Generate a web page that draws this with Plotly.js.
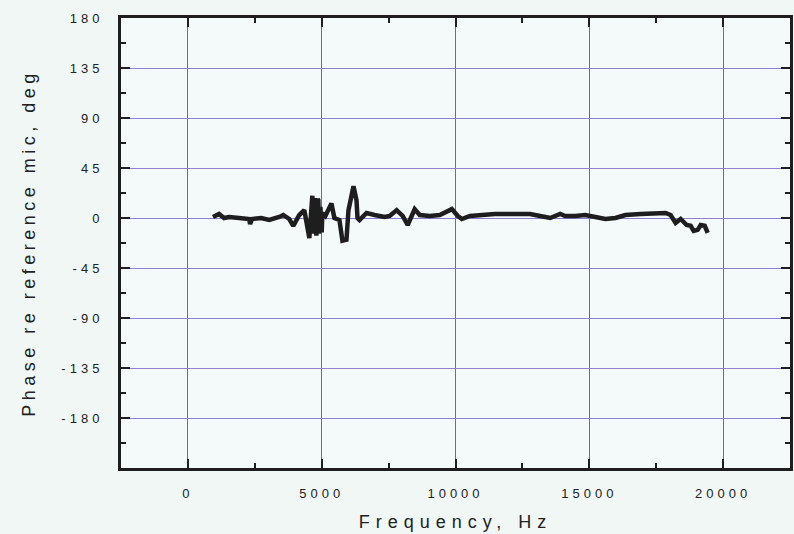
<!DOCTYPE html>
<html>
<head>
<meta charset="utf-8">
<script src="https://cdn.plot.ly/plotly-3.0.1.min.js"></script>
<style>
  html, body { margin: 0; padding: 0; background: #f0f7f5; }
  #chart { width: 794px; height: 534px; }
  .xtick text, .ytick text { letter-spacing: 4px; }
  .g-xtitle text { letter-spacing: 6px; }
  .g-ytitle text { letter-spacing: 4.5px; }
</style>
</head>
<body>
<div id="chart"></div>
<script>
// Frequency (Hz)
const freqHz = [938, 1163, 1350, 1538, 1913, 2288, 2325, 2400, 2738, 3038, 3413, 3563, 3788, 3938,
  4163, 4350, 4538, 4650, 4700, 4763, 4800, 4850, 4875, 4900, 4950, 5000, 5025, 5138, 5363, 5475,
  5663, 5775, 5925, 6000, 6113, 6188, 6300, 6338, 6413, 6675, 6975, 7350, 7538, 7800, 8025, 8213,
  8363, 8475, 8663, 9038, 9413, 9863, 10088, 10238, 10538, 10913, 11475, 12038, 12413, 12788, 13163,
  13538, 13913, 14100, 14475, 14850, 15225, 15600, 15975, 16350, 16913, 17363, 17850, 18038, 18188,
  18225, 18413, 18638, 18788, 18900, 19050, 19163, 19313, 19425];
// Phase re reference mic (deg)
const phaseDeg = [0.9, 3.6, 0, 0.9, 0, -0.9, -5.4, -0.9, 0, -1.8, 0.9, 2.7, -0.9, -7,
  2.7, 7, -18, 20, -14, 18, -16, 17, 16, -14, 10, -13, 4.5, 1.8, 13, 0,
  -1.8, -20.5, -19.6, 7, 22, 28.5, 16, 0, -1.8, 4.5, 2.7, 0.9, 1.8, 7, 1.8, -6.3,
  1.8, 8, 2.7, 1.8, 2.7, 8, 1.8, -0.9, 1.8, 2.7, 3.6, 3.6, 3.6, 3.6, 1.8,
  0, 3.6, 1.8, 1.8, 2.7, 0.9, -0.9, 0, 2.7, 3.6, 4.5, 4.5, 2.7, -1.8,
  -4.5, -0.9, -6.3, -7, -11.6, -10.7, -6.3, -7, -13.4];

const xTickVals = [0, 5000, 10000, 15000, 20000];
const xTickText = ['0', '5000', '10000', '15000', '20000'];
const yTickVals = [-180, -135, -90, -45, 0, 45, 90, 135, 180];
const yTickText = ['-180', '-135', '-90', '-45', '0', '45', '90', '135', '180'];

const axisColor = '#1e1e1e';

const trace = {
  x: freqHz,
  y: phaseDeg,
  type: 'scatter',
  mode: 'lines',
  line: { color: '#1e1e1e', width: 4.5 },
  hoverinfo: 'skip'
};

const layout = {
  width: 794,
  height: 534,
  paper_bgcolor: '#f0f7f5',
  plot_bgcolor: '#f4faf9',
  margin: { l: 121, r: 4, t: 18, b: 66 },
  showlegend: false,
  font: { family: 'Liberation Sans, Arial, sans-serif', color: '#222', size: 13 },
  xaxis: {
    range: [-2500, 22500],
    tickmode: 'array',
    tickvals: xTickVals,
    ticktext: xTickText,
    ticks: 'inside',
    ticklen: 9,
    tickwidth: 2,
    tickcolor: axisColor,
    showline: true,
    linecolor: axisColor,
    linewidth: 3,
    mirror: 'ticks',
    showgrid: true,
    gridcolor: '#7060c0',
    gridwidth: 1,
    zeroline: false,
    ticklabelstandoff: 11,
    minor: { dtick: 2500, tick0: 0, ticks: 'inside', ticklen: 5, tickwidth: 2, tickcolor: axisColor, showgrid: false },
    title: { text: 'Frequency, Hz', font: { size: 18, color: '#222' }, standoff: 16 }
  },
  yaxis: {
    range: [-225, 180],
    tickmode: 'array',
    tickvals: yTickVals,
    ticktext: yTickText,
    ticks: 'inside',
    ticklen: 9,
    tickwidth: 2,
    tickcolor: axisColor,
    showline: true,
    linecolor: axisColor,
    linewidth: 3,
    mirror: 'ticks',
    showgrid: true,
    gridcolor: '#8e80cc',
    gridwidth: 1,
    zeroline: false,
    ticklabelstandoff: 12,
    minor: { dtick: 22.5, tick0: 0, ticks: 'inside', ticklen: 5, tickwidth: 2, tickcolor: axisColor, showgrid: false },
    title: { text: 'Phase re reference mic, deg', font: { size: 18, color: '#222' }, standoff: 22 }
  }
};

Plotly.newPlot('chart', [trace], layout, { displayModeBar: false, staticPlot: true });
</script>
</body>
</html>
